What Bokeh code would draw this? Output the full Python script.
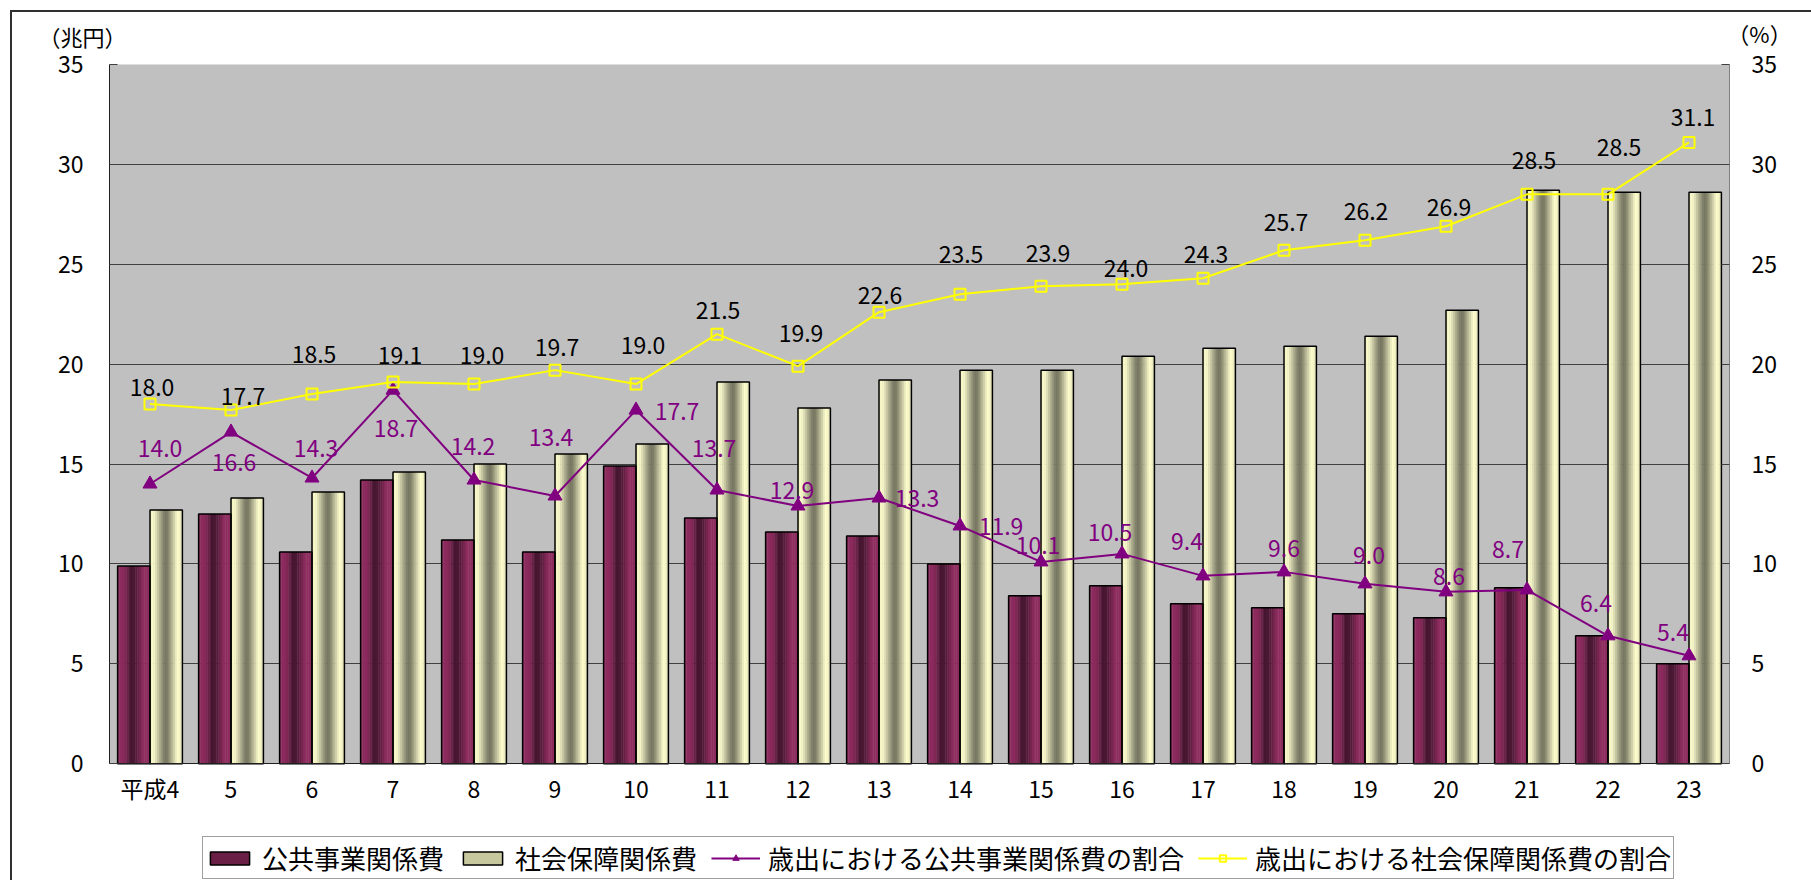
import numpy as np
from bokeh.plotting import figure
from bokeh.models import (ColumnDataSource, FactorRange, Range1d, LinearAxis, Legend, LegendItem,
                          Label, FixedTicker, BoxAnnotation)
from bokeh.transform import dodge
from bokeh.core.properties import value
from bokeh.embed import file_html
from bokeh.resources import INLINE

# ---------------- data ----------------
years = ["平成4", "5", "6", "7", "8", "9", "10", "11", "12", "13",
         "14", "15", "16", "17", "18", "19", "20", "21", "22", "23"]
public_works = [9.9, 12.5, 10.6, 14.2, 11.2, 10.6, 14.9, 12.3, 11.6, 11.4,
                10.0, 8.4, 8.9, 8.0, 7.8, 7.5, 7.3, 8.8, 6.4, 5.0]
social_security = [12.7, 13.3, 13.6, 14.6, 15.0, 15.5, 16.0, 19.1, 17.8, 19.2,
                   19.7, 19.7, 20.4, 20.8, 20.9, 21.4, 22.7, 28.7, 28.6, 28.6]
public_share = [14.0, 16.6, 14.3, 18.7, 14.2, 13.4, 17.7, 13.7, 12.9, 13.3,
                11.9, 10.1, 10.5, 9.4, 9.6, 9.0, 8.6, 8.7, 6.4, 5.4]
social_share = [18.0, 17.7, 18.5, 19.1, 19.0, 19.7, 19.0, 21.5, 19.9, 22.6,
                23.5, 23.9, 24.0, 24.3, 25.7, 26.2, 26.9, 28.5, 28.5, 31.1]
y_ticks = [0, 5, 10, 15, 20, 25, 30, 35]
y_max = 35

series_names = ["公共事業関係費", "社会保障関係費",
                "歳出における公共事業関係費の割合", "歳出における社会保障関係費の割合"]
left_unit = "（兆円）"
right_unit = "（%）"

# ---------------- label placement (style, screen px) ----------------
social_label_dx = [2, 12, 2, 7, 8, 2, 7, 1, 3, 1, 1, 7, 4, 3, 2, 1, 3, 7, 11, 4]
social_label_dy = [-17, -14, -40, -27, -29, -23, -39, -24, -33, -17,
                   -40, -33, -16, -24, -28, -29, -19, -34, -47, -25]
public_label_dx = [10, 3, 4, 3, -1, -4, 41, -3, -6, 38, 41, -3, -12, -16, 0, 4, 3, -19, -12, -16]
public_label_dy = [-35, 30, -29, 38, -33, -58, 1, -41, -15, 1, 1, -16, -21, -34, -23, -28, -15, -40, -32, -23]

FONT = "Noto Sans CJK JP"
FS = "23px"

# layout (px): plot area 109..1729 x 63..763, frame extended to the bottom edge for the legend
W, H = 1811, 880
TOP, BOTTOM_AXIS = 63, 763
PX_PER_UNIT = (BOTTOM_AXIS - TOP) / y_max
y_low = -(H - BOTTOM_AXIS) / PX_PER_UNIT

src = ColumnDataSource(dict(
    year=years, public=public_works, social=social_security,
    pshare=public_share, sshare=social_share,
    plabel=[f"{v:.1f}" for v in public_share],
    slabel=[f"{v:.1f}" for v in social_share],
    pdx=public_label_dx, pdy=public_label_dy,
    sdx=social_label_dx, sdy=social_label_dy,
))

p = figure(width=W, height=H,
           x_range=FactorRange(*years, range_padding=0, factor_padding=0),
           y_range=Range1d(y_low, y_max), x_axis_location="above",
           output_backend="svg", toolbar_location=None,
           min_border_left=109, min_border_right=82, min_border_top=TOP, min_border_bottom=0,
           background_fill_color="white", border_fill_alpha=0)
p.extra_y_ranges = {"pct": Range1d(y_low, y_max)}
# outer chart-area border (top and left edges visible, like the reference)
p.styles = {
    "background-image": "linear-gradient(#303030, #303030), linear-gradient(#303030, #303030)",
    "background-position": "10px 10px, 10px 10px",
    "background-size": "1801px 2px, 2px 870px",
    "background-repeat": "no-repeat",
}
p.outline_line_color = None

# grey plot area
p.add_layout(BoxAnnotation(bottom=0, top=y_max, fill_color="#c0c0c0", fill_alpha=1,
                           line_color="#808080", line_width=1, level="image"))

p.xgrid.grid_line_color = None
p.ygrid.grid_line_color = "#404040"
p.ygrid.grid_line_width = 1
p.ygrid.ticker = FixedTicker(ticks=y_ticks)

# axes
for ax in p.yaxis:
    ax.ticker = FixedTicker(ticks=y_ticks)
    ax.bounds = (0, y_max)
    ax.major_tick_in = 8
    ax.major_tick_out = 0
    ax.minor_tick_line_color = None
    ax.axis_line_color = "#202020"
    ax.major_tick_line_color = "#404040"
    ax.major_label_standoff = 26
    ax.major_label_text_font = FONT
    ax.major_label_text_font_size = FS
    ax.major_label_text_color = "black"

right_axis = LinearAxis(y_range_name="pct", ticker=FixedTicker(ticks=y_ticks), bounds=(0, y_max))
right_axis.major_tick_in = 8
right_axis.major_tick_out = 0
right_axis.minor_tick_line_color = None
right_axis.axis_line_color = "#808080"
right_axis.major_tick_line_color = "#404040"
right_axis.major_label_standoff = 22
right_axis.major_label_text_font = FONT
right_axis.major_label_text_font_size = FS
right_axis.major_label_text_color = "black"
p.add_layout(right_axis, "right")

xa = p.xaxis[0]
xa.fixed_location = 0
xa.major_tick_line_color = None
xa.axis_line_color = "#202020"
xa.major_label_standoff = -47
xa.major_label_text_font = FONT
xa.major_label_text_font_size = FS
xa.major_label_text_color = "black"

# ---------------- gradient bars ----------------
def hex2rgb(h):
    h = h.lstrip("#")
    return [int(h[i:i + 2], 16) for i in (0, 2, 4)]

def grad(stops, t):
    for (t0, c0), (t1, c1) in zip(stops[:-1], stops[1:]):
        if t0 <= t <= t1:
            a = (t - t0) / (t1 - t0) if t1 > t0 else 0
            r0, r1 = hex2rgb(c0), hex2rgb(c1)
            return "#%02x%02x%02x" % tuple(int(round(x0 + (x1 - x0) * a)) for x0, x1 in zip(r0, r1))
    return stops[-1][1]

purple_stops = [(0.0, "#902d60"), (0.22, "#88295a"), (0.42, "#45152f"),
                (0.55, "#4e1935"), (0.8, "#912e61"), (1.0, "#8a2a5b")]
khaki_stops = [(0.0, "#f0f0c0"), (0.12, "#fbfbcc"), (0.45, "#767661"),
               (0.55, "#7d7d66"), (0.85, "#fcfccc"), (1.0, "#eaeaba")]

N = 18
BW = 0.4
for key, center, stops in (("public", -0.2, purple_stops), ("social", 0.2, khaki_stops)):
    for k in range(N):
        t = (k + 0.5) / N
        off = center - BW / 2 + t * BW
        p.vbar(x=dodge("year", off, range=p.x_range), top=key, width=BW / N * 1.2,
               source=src, fill_color=grad(stops, t), line_color=None)

p.vbar(x=dodge("year", -0.2, range=p.x_range), top="public", width=BW, source=src,
       fill_color=None, line_color="black", line_width=1.5)
p.vbar(x=dodge("year", 0.2, range=p.x_range), top="social", width=BW, source=src,
       fill_color=None, line_color="black", line_width=1.5)

# ---------------- lines ----------------
pl = p.line(x="year", y="pshare", source=src, y_range_name="pct", line_color="#800080", line_width=2)
pm = p.scatter(x="year", y="pshare", source=src, y_range_name="pct", marker="triangle", size=14,
               fill_color="#800080", line_color="#800080")
sl = p.line(x="year", y="sshare", source=src, y_range_name="pct", line_color="#ffff00", line_width=2)
sm = p.scatter(x="year", y="sshare", source=src, y_range_name="pct", marker="square", size=11,
               fill_color=None, line_color="#ffff00", line_width=2)

p.text(x="year", y="pshare", text="plabel", source=src, y_range_name="pct",
       x_offset="pdx", y_offset="pdy", text_align="center", text_baseline="middle",
       text_font=value(FONT), text_font_size=FS, text_color="#800080")
p.text(x="year", y="sshare", text="slabel", source=src, y_range_name="pct",
       x_offset="sdx", y_offset="sdy", text_align="center", text_baseline="middle",
       text_font=value(FONT), text_font_size=FS, text_color="black")

# ---------------- legend ----------------
pub_sw = p.vbar(x=dodge("year", -0.2, range=p.x_range), top="public", width=BW, source=src,
                fill_color="#6a2046", line_color="black", line_width=1.5, visible=False)
soc_sw = p.vbar(x=dodge("year", 0.2, range=p.x_range), top="social", width=BW, source=src,
                fill_color="#c8c89e", line_color="black", line_width=1.5, visible=False)
legend = Legend(items=[
    LegendItem(label=series_names[0], renderers=[pub_sw]),
    LegendItem(label=series_names[1], renderers=[soc_sw]),
    LegendItem(label=series_names[2], renderers=[pl, pm]),
    LegendItem(label=series_names[3], renderers=[sl, sm]),
], orientation="horizontal", location=(93, 1))
legend.label_text_font = FONT
legend.label_text_font_size = "26px"
legend.label_text_color = "black"
legend.glyph_width = 49
legend.glyph_height = 16
legend.label_standoff = 8
legend.spacing = 14
legend.padding = 2
legend.margin = 0
legend.border_line_color = "#404040"
legend.border_line_width = 1
legend.background_fill_color = "white"
legend.background_fill_alpha = 1
p.add_layout(legend, "center")

# ---------------- unit labels (side panel, not clipped) ----------------
p.add_layout(Label(x=82, y=35, x_units="canvas", y_units="canvas", text=left_unit,
                   text_align="center", text_baseline="middle", text_font=FONT,
                   text_font_size="22px", text_color="black"), "above")
p.add_layout(Label(x=1759, y=32, x_units="canvas", y_units="canvas", text=right_unit,
                   text_align="center", text_baseline="middle", text_font=FONT,
                   text_font_size="22px", text_color="black"), "above")

open("out.html", "w").write(file_html(p, INLINE))
